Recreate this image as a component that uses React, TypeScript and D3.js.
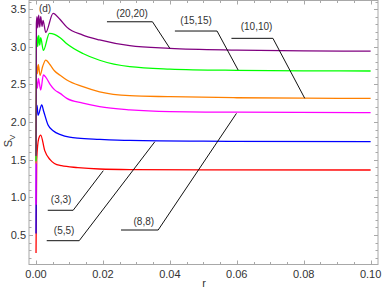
import React, { useEffect, useRef } from "react";
import * as d3 from "d3";

// r values (x) and S_v values (y)
const redR = [0, 0.0002, 0.0008, 0.0014, 0.0026, 0.0042, 0.0055, 0.0076, 0.0125, 0.019, 0.028, 0.05, 0.1];
const redS = [0.26, 1.5, 1.78, 1.827, 1.62, 1.5, 1.45, 1.42, 1.395, 1.376, 1.368, 1.364, 1.363];

const blueR = [0, 0.0001, 0.0003, 0.0006, 0.0017, 0.0023, 0.0036, 0.0051, 0.0075, 0.01, 0.0125, 0.019, 0.028, 0.05, 0.1];
const blueS = [0.52, 2.15, 2.22, 2.09, 2.226, 2.14, 1.96, 1.885, 1.83, 1.8, 1.785, 1.77, 1.755, 1.745, 1.739];

const magentaR = [0, 0.0001, 0.0004, 0.0007, 0.0014, 0.0022, 0.003, 0.0042, 0.0055, 0.0072, 0.0092, 0.014, 0.019, 0.028, 0.04, 0.06, 0.1];
const magentaS = [0.9, 2.55, 2.45, 2.58, 2.425, 2.624, 2.59, 2.5, 2.43, 2.38, 2.314, 2.25, 2.203, 2.16, 2.137, 2.13, 2.124];

const orangeR = [0, 0.0001, 0.0004, 0.0007, 0.0012, 0.002, 0.0029, 0.0042, 0.0055, 0.0072, 0.0092, 0.014, 0.019, 0.028, 0.04, 0.06, 0.08, 0.1];
const orangeS = [1.45, 2.78, 2.64, 2.76, 2.62, 2.74, 2.823, 2.76, 2.68, 2.62, 2.557, 2.469, 2.4, 2.349, 2.336, 2.322, 2.316, 2.314];

const greenR = [0, 0.0001, 0.0003, 0.0005, 0.0008, 0.0011, 0.0014, 0.0022, 0.004, 0.0055, 0.0072, 0.0092, 0.014, 0.019, 0.028, 0.04, 0.06, 0.08, 0.1];
const greenS = [1.48, 3.05, 3.14, 3.0, 3.15, 3.02, 3.12, 2.95, 3.177, 3.165, 3.12, 3.04, 2.91, 2.82, 2.734, 2.703, 2.686, 2.68, 2.677];

const purpleR = [0, 0.0001, 0.0003, 0.0005, 0.0008, 0.0011, 0.0014, 0.0018, 0.0021, 0.0029, 0.0051, 0.0072, 0.0092, 0.014, 0.019, 0.028, 0.04, 0.06, 0.08, 0.1];
const purpleS = [1.55, 3.3, 3.4, 3.25, 3.42, 3.26, 3.4, 3.27, 3.35, 3.19, 3.443, 3.36, 3.26, 3.155, 3.09, 3.013, 2.978, 2.955, 2.945, 2.94];

const seriesNames = ["(3,3)", "(5,5)", "(8,8)", "(10,10)", "(15,15)", "(20,20)"];
const seriesColors = ["#ff0000", "#0000ff", "#ff00ff", "#ff8000", "#00ff00", "#800080"];
const seriesR = [redR, blueR, magentaR, orangeR, greenR, purpleR];
const seriesS = [redS, blueS, magentaS, orangeS, greenS, purpleS];

// callouts: label position, line start, elbow, tip (data units)
const calloutText: [number, number][] = [[0.0075, 0.965], [0.0084, 0.566], [0.0322, 0.676], [0.0659, 3.274], [0.0478, 3.354], [0.0287, 3.447]];
const calloutLine: [number, number][][] = [
  [[0.0035, 0.828], [0.0111, 0.828], [0.0201, 1.354]],
  [[0.0032, 0.424], [0.0129, 0.424], [0.0355, 1.738]],
  [[0.0254, 0.566], [0.0365, 0.566], [0.0599, 2.115]],
  [[0.0584, 3.111], [0.0708, 3.111], [0.0803, 2.315]],
  [[0.0415, 3.208], [0.0541, 3.208], [0.0604, 2.69]],
  [[0.0212, 3.331], [0.0348, 3.331], [0.04, 2.978]],
];

const xTicks = [0, 0.02, 0.04, 0.06, 0.08, 0.1];
const yTicks = [0.5, 1.0, 1.5, 2.0, 2.5, 3.0, 3.5];

const App: React.FC = () => {
  const svgRef = useRef<SVGSVGElement | null>(null);

  useEffect(() => {
    const width = 382;
    const height = 300;
    const left = 29, right = 378, top = 0.5, bottom = 264.5;

    const x = d3.scaleLinear().domain([-0.0021, 0.1022]).range([left, right]);
    const y = d3.scaleLinear().domain([0.108, 3.62]).range([bottom, 0]);

    const svg = d3.select(svgRef.current);
    svg.selectAll("*").remove();
    svg.attr("width", width).attr("height", height);

    svg.append("clipPath").attr("id", "plotclip")
      .append("rect").attr("x", left).attr("y", top).attr("width", right - left).attr("height", bottom - top);

    const frameColor = "#a8a8a8";
    const font = "'Liberation Sans', Arial, sans-serif";

    // frame
    svg.append("rect")
      .attr("x", left).attr("y", top)
      .attr("width", right - left).attr("height", bottom - top)
      .attr("fill", "none").attr("stroke", frameColor).attr("stroke-width", 1);

    // x ticks (inward, bottom and top)
    const xMinor = d3.range(0, 0.1001, 0.005);
    xMinor.forEach((t) => {
      const major = xTicks.some((m) => Math.abs(m - t) < 1e-9);
      const len = major ? 4 : 2.5;
      const px = Math.round(x(t)) + 0.5;
      svg.append("line").attr("x1", px).attr("x2", px).attr("y1", bottom).attr("y2", bottom - len).attr("stroke", frameColor);
      svg.append("line").attr("x1", px).attr("x2", px).attr("y1", top).attr("y2", top + len).attr("stroke", frameColor);
    });
    const yMinor = d3.range(0.2, 3.61, 0.1);
    yMinor.forEach((t) => {
      const major = yTicks.some((m) => Math.abs(m - t) < 1e-6);
      const len = major ? 4 : 2.5;
      const py = Math.round(y(t)) + 0.5;
      svg.append("line").attr("x1", left).attr("x2", left + len).attr("y1", py).attr("y2", py).attr("stroke", frameColor);
      svg.append("line").attr("x1", right).attr("x2", right - len).attr("y1", py).attr("y2", py).attr("stroke", frameColor);
    });

    // tick labels
    svg.append("g").selectAll("text").data(xTicks).enter().append("text")
      .attr("x", (d) => x(d)).attr("y", bottom + 13)
      .attr("text-anchor", "middle").attr("font-family", font).attr("font-size", 11).attr("fill", "#333")
      .text((d) => d.toFixed(2));
    svg.append("g").selectAll("text").data(yTicks).enter().append("text")
      .attr("x", left - 3).attr("y", (d) => y(d) + 4)
      .attr("text-anchor", "end").attr("font-family", font).attr("font-size", 11).attr("fill", "#333")
      .text((d) => d.toFixed(1));

    // axis labels
    svg.append("text").attr("x", 204).attr("y", 287)
      .attr("text-anchor", "middle").attr("font-family", font).attr("font-size", 11).attr("fill", "#333").text("r");
    const yl = svg.append("text").attr("transform", "translate(12,141) rotate(-90)")
      .attr("text-anchor", "middle").attr("font-family", font).attr("font-size", 11).attr("fill", "#333");
    yl.append("tspan").text("S");
    yl.append("tspan").attr("font-size", 8).attr("dy", 3).text("V");

    svg.append("text").attr("x", 45).attr("y", 12)
      .attr("text-anchor", "middle").attr("font-family", font).attr("font-size", 10).attr("fill", "#333").text("(d)");

    // curves
    const line = d3.line<[number, number]>()
      .x((d) => x(d[0])).y((d) => y(d[1]))
      .curve(d3.curveMonotoneX);
    const plot = svg.append("g").attr("clip-path", "url(#plotclip)");
    seriesR.forEach((rs, i) => {
      const pts: [number, number][] = rs.map((r, j) => [r, seriesS[i][j]]);
      plot.append("path").attr("d", line(pts)!)
        .attr("fill", "none").attr("stroke", seriesColors[i]).attr("stroke-width", 1.3);
    });

    // callouts
    const straight = d3.line<[number, number]>().x((d) => x(d[0])).y((d) => y(d[1]));
    calloutLine.forEach((pts, i) => {
      svg.append("path").attr("d", straight(pts)!)
        .attr("fill", "none").attr("stroke", "#111").attr("stroke-width", 1);
      svg.append("text").attr("x", x(calloutText[i][0])).attr("y", y(calloutText[i][1]) + 3.5)
        .attr("text-anchor", "middle").attr("font-family", font).attr("font-size", 10).attr("fill", "#333")
        .text(seriesNames[i]);
    });
  }, []);

  return (
    <div>
      <svg ref={svgRef} style={{ position: "absolute", left: 0, top: 0 }} width={382} height={300}></svg>
    </div>
  );
};

export default App;
